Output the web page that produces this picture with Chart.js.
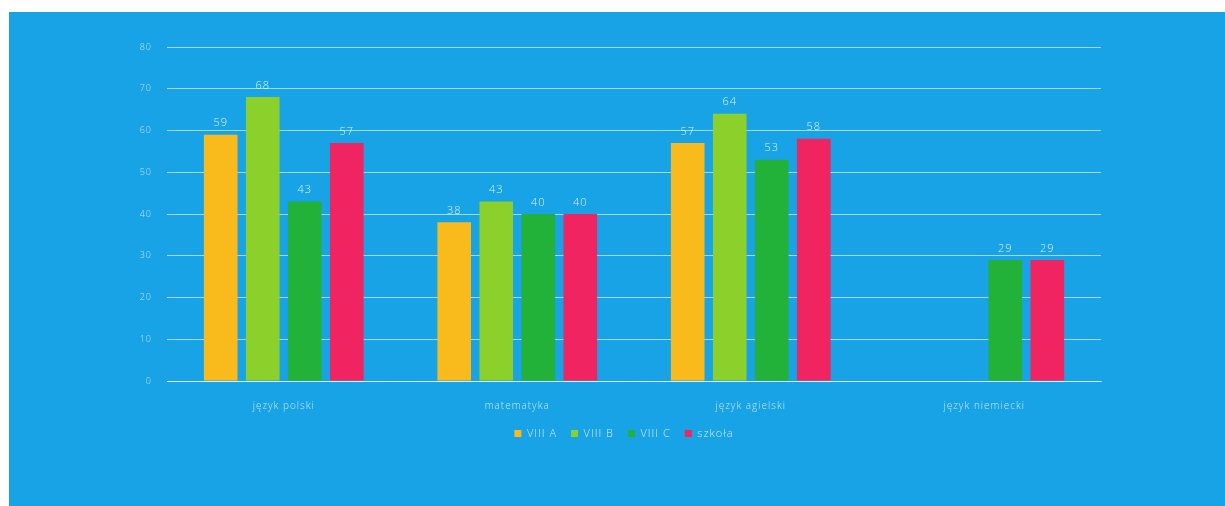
<!DOCTYPE html>
<html>
<head>
<meta charset="utf-8">
<script src="https://cdn.jsdelivr.net/npm/chart.js@4.4.0/dist/chart.umd.min.js"></script>
<style>
html,body{margin:0;padding:0;background:#fff;width:1225px;height:506px;overflow:hidden;}
#wrap{position:absolute;left:9px;top:12px;width:1216px;height:494px;background:#17a3e6;}
canvas{display:block;}
</style>
</head>
<body>
<div id="wrap"><canvas id="c" width="1216" height="494"></canvas></div>
<script>
const categories = ["język polski", "matematyka", "język agielski", "język niemiecki"];
const seriesNames = ["VIII A", "VIII B", "VIII C", "szkoła"];
const viiiA = [59, 38, 57, null];
const viiiB = [68, 43, 64, null];
const viiiC = [43, 40, 53, 29];
const szkola = [57, 40, 58, 29];
const yTicks = [0, 10, 20, 30, 40, 50, 60, 70, 80];
const colors = ["#f9bb1c", "#8cd02c", "#22b23a", "#ef2460"];

const FONT = '"Open Sans", Lato, sans-serif';

const spacing = {
  id: 'spacing',
  beforeInit(chart) { chart.ctx.letterSpacing = '1px'; },
  beforeUpdate(chart) { chart.ctx.letterSpacing = '1px'; },
  beforeDraw(chart) { chart.ctx.letterSpacing = '1px'; }
};

const valueLabels = {
  id: 'valueLabels',
  afterDatasetsDraw(chart) {
    const ctx = chart.ctx;
    ctx.save();
    ctx.letterSpacing = '1px';
    ctx.font = '300 11px ' + FONT;
    ctx.fillStyle = 'rgba(255,255,255,0.85)';
    ctx.textAlign = 'center';
    ctx.textBaseline = 'bottom';
    chart.data.datasets.forEach((ds, i) => {
      const meta = chart.getDatasetMeta(i);
      meta.data.forEach((el, j) => {
        const v = ds.data[j];
        if (v === null || v === undefined) return;
        ctx.fillText(String(v), el.x, el.y - 6);
      });
    });
    ctx.restore();
  }
};

const datasets = [viiiA, viiiB, viiiC, szkola].map((d, i) => ({
  label: seriesNames[i],
  data: d,
  backgroundColor: colors[i],
  borderWidth: 0,
  categoryPercentage: 0.72,
  barPercentage: 0.8
}));

new Chart(document.getElementById('c'), {
  type: 'bar',
  data: { labels: categories, datasets },
  plugins: [spacing, valueLabels],
  options: {
    responsive: false,
    animation: false,
    layout: { padding: { left: 14, right: 0, top: 35, bottom: 57 } },
    plugins: {
      legend: {
        position: 'bottom',
        labels: {
          boxWidth: 7, boxHeight: 7, padding: 14,
          color: 'rgba(255,255,255,0.8)',
          font: { family: FONT, size: 11, weight: '300' }
        }
      },
      tooltip: { enabled: false }
    },
    scales: {
      x: {
        afterFit(s) { s.height = 33; },
        grid: { display: false, drawTicks: false },
        border: { display: true, color: 'rgba(255,255,255,0.6)', width: 1 },
        ticks: { color: 'rgba(255,255,255,0.75)', padding: 19,
          font: { family: FONT, size: 10, weight: '300' } }
      },
      y: {
        min: 0, max: 80,
        afterFit(s) { s.width = 144; },
        afterBuildTicks(s) { s.ticks = yTicks.map(v => ({ value: v })); },
        grid: { color: 'rgba(255,255,255,0.6)', drawTicks: false, lineWidth: 1 },
        border: { display: false },
        ticks: { color: 'rgba(255,255,255,0.7)', padding: 15,
          font: { family: FONT, size: 9, weight: '300' } }
      },
      y2: {
        position: 'right',
        min: 0, max: 80,
        afterFit(s) { s.width = 124; },
        grid: { display: false, drawTicks: false },
        border: { display: false },
        ticks: { display: false }
      }
    }
  }
});
</script>
</body>
</html>
